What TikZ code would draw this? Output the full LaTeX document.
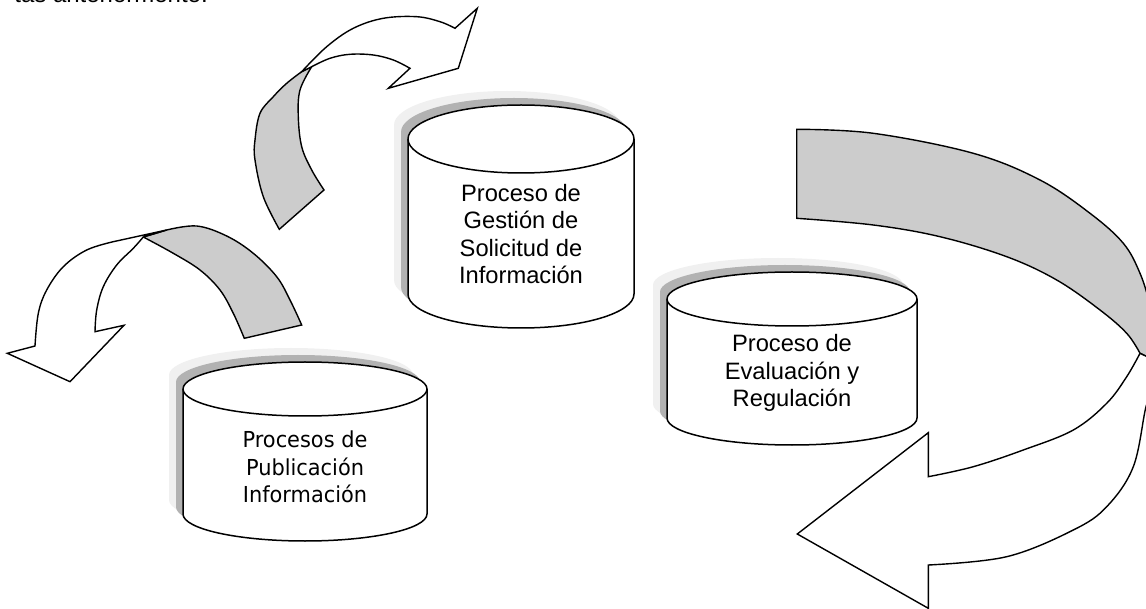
\documentclass[tikz,border=0pt]{standalone}
\usepackage{fontspec}
\setmainfont{Liberation Sans}
\newfontfamily\tahomalike[FakeStretch=0.95]{DejaVu Sans}
\definecolor{backgray}{HTML}{CCCCCC}
\definecolor{shdark}{HTML}{B2B2B2}
\definecolor{shlight}{HTML}{F0F0F0}
\newcommand\cylshape[6]{% #1 style, #2 cx, #3 yt, #4 yb, #5 rx, #6 ry
  \path[#1] ({#2-#5},#3) -- ({#2-#5},#4)
    arc[start angle=180,end angle=0,x radius=#5,y radius=#6]
    -- ({#2+#5},#3)
    arc[start angle=0,end angle=-180,x radius=#5,y radius=#6] -- cycle;}
\newcommand\proccyl[5]{%
  \cylshape{fill=shlight,shift={(-14,-14)}}{#1}{#2}{#3}{#4}{#5}
  \cylshape{fill=shdark,shift={(-7,-7)}}{#1}{#2}{#3}{#4}{#5}
  \cylshape{cylbody}{#1}{#2}{#3}{#4}{#5}
  \draw[cylline] ({#1-#4},#2) arc[start angle=180,end angle=0,x radius=#4,y radius=#5];}
\tikzset{
  cylbody/.style={fill=white,draw=black,line width=1.5},
  cylline/.style={draw=black,line width=1.5},
  backside/.style={fill=backgray,draw=black,line width=1.4},
  frontside/.style={fill=white,draw=black,line width=1.4},
  cyltext/.style={align=center,font=\fontsize{23.7}{27.5}\selectfont},
  cyltextb/.style={align=center,font=\tahomalike\fontsize{22}{27.5}\selectfont}
}
\begin{document}
\begin{tikzpicture}[x=1pt,y=-1pt]
\useasboundingbox (0,0) rectangle (1146,609);
\clip (0,0) rectangle (1146,609);

% clipped line of surrounding text
\node[anchor=base east,inner sep=0,font=\fontsize{24}{28}\selectfont] (toptext) at (208,2.5) {tas anteriormente.};

% cylinders
\proccyl{521}{139}{294}{113}{34}
\node[cyltext] (gestion) at (521,234) {Proceso de\\Gestión de\\Solicitud de\\Información};

\proccyl{792}{299}{418}{125}{27}
\node[cyltext] (evaluacion) at (792,373) {Proceso de\\Evaluación y\\Regulación};

\proccyl{305}{389}{514}{122}{27}
\node[cyltextb] (publicacion) at (305,467) {Procesos de\\Publicación\\Información};

% arrow A (top)
\path[backside] (279.3,229.3) -- plot[smooth,tension=0.6] coordinates {(279.3,229.3) (263.3,196.7) (255,160) (255,140) (260,113.3) (273.3,96.7) (286.7,83.3) (301.7,71.7)}
  -- (311.7,66.7) -- plot[smooth,tension=0.6] coordinates {(311.7,66.7) (300,90) (298.3,116.7) (301.7,146.7) (311.7,170) (324,190)} -- cycle;
\path[frontside] (301.7,71.7) -- plot[smooth,tension=0.6] coordinates {(301.7,71.7) (326.7,46.7) (353.3,28.3) (383.3,18.3) (416.7,16.7) (440,21.7) (455,28.3)}
  -- (477.3,8.3) -- (458.3,68.3) -- (388.3,88.3) -- (410,68.3)
  -- plot[smooth,tension=0.6] coordinates {(410,68.3) (393.3,60) (373.3,55) (350,54.3) (330,58.3) (311.7,66.7)} -- cycle;

% arrow B (left)
\path[backside] (301.7,325) -- plot[smooth,tension=0.6] coordinates {(301.7,325) (290,300) (276.7,276.7) (253.3,253.3) (226.7,236) (196.7,226) (166.7,230)}
  -- (143.3,237) -- plot[smooth,tension=0.6] coordinates {(143.3,237) (173.3,253.3) (200,270) (220,290) (233.3,313.3) (244.3,338.3)} -- cycle;
\path[frontside] (113.3,241.7) -- plot[smooth,tension=0.6] coordinates {(113.3,241.7) (86.7,250) (63.3,266.7) (46.7,290) (38.3,313.3) (35,346)}
  -- (7.3,353.3) -- (70,381.7) -- (124,325.3) -- (95,331.7)
  -- plot[smooth,tension=0.6] coordinates {(95,331.7) (96.7,310) (103.3,286.7) (116.7,265) (133.3,248.3) (143.3,237)} -- (166.7,230) -- cycle;

% arrow C (right)
\path[backside] (796.7,129.3) -- plot[smooth,tension=0.6] coordinates {(796.7,129.3) (873.3,133.3) (973.3,153.3) (1040,180) (1090,213.3) (1123.3,243.3) (1140,273.3) (1150,305) (1156,335) (1158,362)}
  -- (1140,353.3) -- plot[smooth,tension=0.6] coordinates {(1140,353.3) (1126.7,333.3) (1100,310) (1056.7,280) (1006.7,256.7) (940,236.7) (873.3,225) (796.7,218.3)} -- cycle;
\path[frontside] (1140,353.3) -- (1158,362) -- plot[smooth,tension=0.6] coordinates {(1158,362) (1154,388) (1146,406.7) (1133.3,466.7) (1106.7,506.7) (1073.3,530) (1006.7,556.7) (928.3,565)}
  -- (928.3,608.3) -- (797.3,534) -- (928.3,432.7) -- (928.3,476.7)
  -- plot[smooth,tension=0.6] coordinates {(928.3,476.7) (973.3,466.7) (1023.3,450) (1073.3,430) (1106.7,403.3) (1126.7,376.7) (1140,353.3)} -- cycle;
\end{tikzpicture}
\end{document}
